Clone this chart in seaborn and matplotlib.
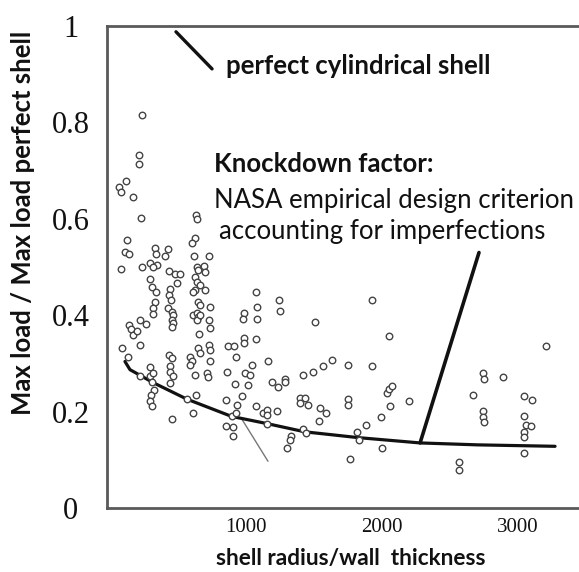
import matplotlib
matplotlib.use('Agg')
import matplotlib.pyplot as plt
import seaborn as sns

# shell radius / wall thickness  vs  max load / max load of perfect shell
radius_t = [
    233, 213, 216, 118, 69, 78, 167, 228, 630, 637, 625,
    122, 605, 110, 142, 331, 336, 429, 404, 620, 730, 78, 237, 294, 343, 318,
    637, 691, 649, 698, 436, 478, 514, 294, 490, 625, 642, 662, 625, 612,
    306, 338, 441, 436, 698, 649, 662, 331, 318, 314, 446, 429, 453, 465,
    453, 465, 453, 735, 612, 637, 649, 637, 662, 730, 221, 265, 140, 152,
    167, 201, 735, 656, 221, 86, 649, 662, 730, 735, 870, 911, 926, 588,
    600, 436, 453, 135, 294, 441, 588, 735,
    221, 294, 314, 441, 465, 441, 625, 715, 723, 862, 919, 306, 323, 299,
    294, 306, 564, 632, 612, 453, 853, 936, 894, 926, 853, 902, 902,
    1071, 1242, 1250, 1078, 1078, 987, 980, 1507, 1923, 2051, 987, 987,
    1071, 1046, 1159, 992, 1029, 1286, 1421, 1495, 1568, 1634, 1752, 1928,
    1012, 1188, 1237, 1286, 972, 1071, 1127, 1152, 1156, 1156, 1225, 1397,
    1433, 1397, 1458, 1544, 1585, 1536, 1421, 1438, 1330, 1323, 1299, 1752,
    1752, 1764, 1813, 1830, 1879, 1990, 1997, 2058, 2033, 2051, 2075, 2200,
    3205, 2744, 2749, 2891, 2666, 2739, 2744, 2749, 3043, 3100, 3043, 3058,
    3092, 3043, 3043, 3043, 2567, 2567,
]
load_ratio = [
    0.816, 0.732, 0.713, 0.678, 0.666, 0.656, 0.645, 0.601, 0.608, 0.600, 0.561,
    0.555, 0.549, 0.531, 0.526, 0.540, 0.526, 0.538, 0.522, 0.522, 0.522, 0.496, 0.501, 0.508, 0.504, 0.500,
    0.501, 0.503, 0.493, 0.489, 0.491, 0.486, 0.486, 0.476, 0.467, 0.480, 0.469, 0.462, 0.452, 0.448,
    0.458, 0.448, 0.455, 0.441, 0.452, 0.427, 0.421, 0.427, 0.414, 0.403, 0.431, 0.414, 0.407, 0.400,
    0.390, 0.384, 0.376, 0.417, 0.400, 0.404, 0.397, 0.390, 0.400, 0.391, 0.391, 0.381, 0.379, 0.371,
    0.359, 0.368, 0.373, 0.361, 0.338, 0.331, 0.331, 0.321, 0.338, 0.328, 0.336, 0.336, 0.313, 0.313,
    0.306, 0.318, 0.311, 0.314, 0.293, 0.295, 0.297, 0.304,
    0.274, 0.273, 0.281, 0.283, 0.274, 0.259, 0.276, 0.280, 0.272, 0.283, 0.258, 0.262, 0.245, 0.235,
    0.221, 0.212, 0.226, 0.235, 0.197, 0.184, 0.225, 0.214, 0.190, 0.197, 0.170, 0.168, 0.149,
    0.448, 0.431, 0.409, 0.417, 0.393, 0.405, 0.393, 0.386, 0.432, 0.357, 0.352, 0.342,
    0.350, 0.297, 0.304, 0.280, 0.276, 0.267, 0.276, 0.283, 0.295, 0.307, 0.297, 0.295,
    0.256, 0.262, 0.251, 0.262, 0.232, 0.212, 0.197, 0.203, 0.192, 0.175, 0.201, 0.228,
    0.228, 0.218, 0.214, 0.208, 0.197, 0.180, 0.164, 0.156, 0.149, 0.142, 0.125, 0.226,
    0.214, 0.101, 0.157, 0.142, 0.173, 0.189, 0.125, 0.212, 0.239, 0.247, 0.254, 0.221,
    0.336, 0.281, 0.268, 0.271, 0.235, 0.201, 0.189, 0.178, 0.233, 0.225, 0.190, 0.173,
    0.170, 0.157, 0.148, 0.115, 0.095, 0.078,
]

# NASA knockdown factor curve
curve_rt = [110, 147, 318, 564, 894, 1156, 1433, 1825, 2279, 2700, 3271]
curve_knock = [0.304, 0.287, 0.260, 0.226, 0.190, 0.175, 0.158, 0.146, 0.135, 0.131, 0.128]

y_ticks = [0, 0.2, 0.4, 0.6, 0.8, 1]
y_labels = ['0', '0.2', '0.4', '0.6', '0.8', '1']
x_ticks = [1000, 2000, 3000]
x_minor = [500, 1500, 2500]

sns.set_style('white')
plt.rcParams['font.family'] = ['Lato', 'DejaVu Sans']

fig = plt.figure(figsize=(5.79, 5.72), dpi=100)
ax = fig.add_axes([107 / 579, 64 / 572, 472 / 579, 482 / 572])

sns.lineplot(x=curve_rt, y=curve_knock, color='#111111', lw=2.3, ax=ax, zorder=2)
sns.scatterplot(x=radius_t, y=load_ratio, marker='o', s=22, facecolor='white',
                edgecolor='#444444', linewidth=1.0, ax=ax, zorder=3)

# pointer lines
ax.annotate('', xy=(curve_rt[8], curve_knock[8]), xytext=(2712, 0.530),
            arrowprops=dict(arrowstyle='-', lw=2.6, color='#111111', shrinkA=0, shrinkB=0))
ax.annotate('', xy=(750, 0.911), xytext=(485, 0.988),
            arrowprops=dict(arrowstyle='-', lw=2.4, color='#111111', shrinkA=0, shrinkB=0))
ax.plot([970, 1161], [0.184, 0.097], color='#777777', lw=1.0, zorder=1)

ax.text(853, 0.918, 'perfect cylindrical shell', fontsize=18.5, fontweight='bold',
        ha='left', va='center', color='#111111')
ax.text(764, 0.713, 'Knockdown factor:', fontsize=18.5, fontweight='bold',
        ha='left', va='center', color='#111111')
ax.text(764, 0.639, 'NASA empirical design criterion', fontsize=18.5,
        ha='left', va='center', color='#111111')
ax.text(801, 0.573, 'accounting for imperfections', fontsize=18.5,
        ha='left', va='center', color='#111111')

ax.set_xlim(-22, 3447)
ax.set_ylim(0, 1)

for side in ['left', 'bottom', 'top']:
    ax.spines[side].set_color('#5a5a5a')
    ax.spines[side].set_linewidth(2)
ax.spines['right'].set_visible(False)

ax.set_yticks(y_ticks)
ax.set_yticklabels(y_labels, family='Liberation Serif', fontsize=22,
                   ha='center', color='#111111')
ax.set_xticks(x_ticks)
ax.set_xticks(x_minor, minor=True)
ax.set_xticklabels([str(t) for t in x_ticks], family='Liberation Serif',
                   fontsize=15, color='#111111')
ax.tick_params(axis='y', direction='in', length=7, width=1.5, color='#5a5a5a', pad=26)
ax.tick_params(axis='x', which='both', direction='in', length=6, width=1.5,
               color='#5a5a5a', pad=7)

ax.set_ylabel('Max load / Max load perfect shell', fontsize=18.5, fontweight='bold',
              color='#111111')
ax.yaxis.set_label_coords(-0.152, 0.591)
ax.set_xlabel('shell radius/wall  thickness', fontsize=16.3, fontweight='bold',
              color='#111111', va='top')
ax.xaxis.set_label_coords(0.517, -0.083)

fig.savefig('out.png', dpi=100)
